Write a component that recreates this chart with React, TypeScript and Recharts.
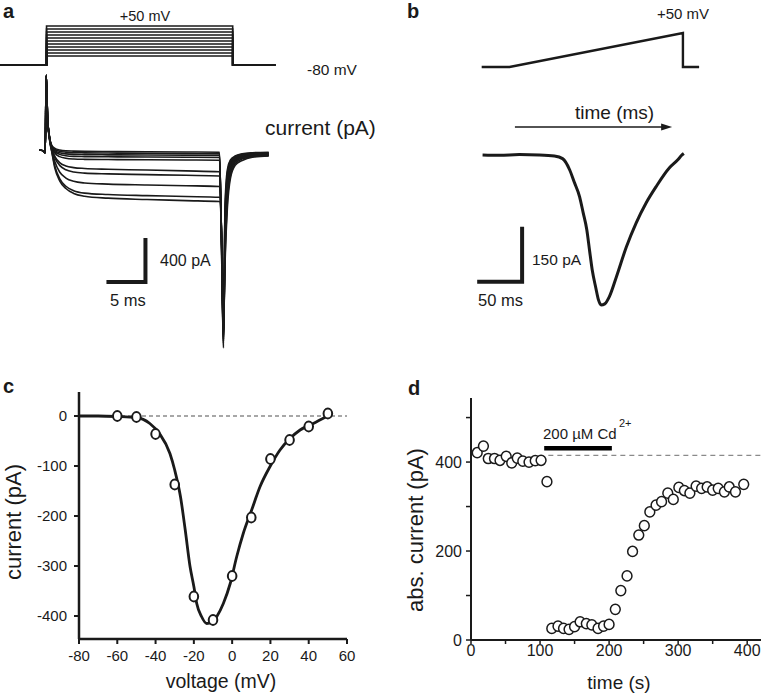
import React from 'react';
import {
  LineChart,
  Line,
  XAxis,
  YAxis,
  ComposedChart,
  Scatter,
  ReferenceLine,
  ReferenceDot,
} from 'recharts';

const FONT = '"Liberation Sans", Arial, Helvetica, sans-serif';
const INK = '#1a1a1a';

// ---------- panel a : step protocol (mV, ms) ----------
const holdingA = -80;
const stepLevelsA = [-50, -40, -30, -20, -10, 0, 10, 20, 30, 40, 50];
const sweepStartA = -6;
const stepOnA = 0;
const stepOffA = 24;
const sweepEndA = 29.5;

// ---------- panel a : current sweeps (pA vs ms) ----------
const timeA = [-0.8, -0.3, -0.05, 0.08, 0.25, 0.5, 0.8, 1.2, 1.8, 2.6, 3.6, 5, 8, 13, 18, 22.3, 22.55, 22.8, 23.0, 23.3, 23.7, 24.3, 25.2, 26.5, 28.6];
const sweepA1 = [0, -8, -25, 680, 300, 120, 40, 15, 0, -8, -10, -12, -14, -16, -18, -20, -900, -1800, -500, -180, -90, -55, -35, -25, -20];
const sweepA2 = [0, -8, -25, 680, 300, 118, 35, 5, -12, -20, -24, -26, -28, -30, -33, -35, -860, -1780, -560, -210, -100, -62, -40, -30, -25];
const sweepA3 = [0, -8, -25, 680, 300, 116, 30, -5, -25, -35, -40, -42, -44, -46, -48, -50, -830, -1760, -620, -240, -115, -68, -45, -34, -30];
const sweepA4 = [0, -8, -25, 680, 300, 114, 25, -15, -40, -52, -58, -60, -62, -64, -66, -68, -800, -1740, -680, -270, -130, -75, -50, -38, -34];
const sweepA5 = [0, -8, -25, 680, 300, 112, 20, -30, -60, -75, -82, -85, -87, -89, -91, -93, -780, -1720, -740, -300, -145, -82, -55, -42, -38];
const sweepA6 = [0, -8, -25, 680, 300, 110, 10, -60, -115, -145, -160, -168, -175, -182, -190, -198, -770, -1700, -800, -340, -160, -90, -60, -46, -42];
const sweepA7 = [0, -8, -25, 680, 300, 108, 5, -75, -140, -180, -200, -210, -217, -224, -230, -236, -760, -1680, -860, -380, -180, -100, -66, -50, -45];
const sweepA8 = [0, -8, -25, 680, 300, 105, -5, -110, -200, -255, -285, -300, -310, -318, -325, -332, -750, -1660, -920, -420, -200, -110, -72, -55, -48];
const sweepA9 = [0, -8, -25, 680, 300, 100, -15, -150, -260, -330, -370, -392, -405, -415, -423, -430, -740, -1640, -980, -470, -225, -125, -80, -60, -52];
const sweepA10 = [0, -8, -25, 680, 300, 95, -20, -170, -280, -350, -395, -420, -438, -450, -460, -468, -760, -1620, -1040, -530, -255, -140, -95, -65, -55];
const sweepsA = [sweepA1, sweepA2, sweepA3, sweepA4, sweepA5, sweepA6, sweepA7, sweepA8, sweepA9, sweepA10];
const scaleBarA = { t: 12.8, i: -1200, dt: 5, di: 400 };

// ---------- panel b : ramp protocol ----------
const rampTimesB = [-1, 30, 223, 223, 241];
const rampVoltsB = [-80, -80, 50, -80, -80];

// ---------- panel b : ramp current ----------
const timeB = [0, 19, 41, 63, 80, 89, 97, 102, 108, 112, 116, 119, 122, 126, 129, 132, 136, 141, 149, 160, 171, 182, 193, 208, 217, 222, 224];
const currentB = [0, -1, 1, 0, -3, -10, -41, -74, -114, -158, -204, -259, -313, -362, -395, -409, -406, -387, -332, -251, -185, -131, -87, -35, -14, 0, 4];
const scaleBarB = { t: 44, i: -346, dt: 50, di: 150 };
const arrowB = { from: 36, to: 211, i: 76 };

// ---------- panel c : I-V ----------
const voltsC = [-60, -50, -40, -30, -20, -10, 0, 10, 20, 30, 40, 50];
const currentC = [0, -2, -36, -137, -361, -408, -320, -203, -86, -48, -21, 5];
const fitVoltsC = [-80, -70, -60, -50, -43, -38, -32.5, -30, -27, -24.5, -22, -20, -18.5, -16, -13.3, -10.7, -8, -4.6, -1, 2.4, 5.8, 10.2, 14.6, 19.8, 25, 30.2, 35.5, 42.4, 49.4];
const fitCurrentC = [0, 0, -1, -3, -15, -35, -75, -108, -161, -228, -301, -341, -375, -401, -415, -413, -401, -375, -335, -281, -235, -188, -141, -101, -68, -45, -28, -15, -1];
const xTicksC = [-80, -60, -40, -20, 0, 20, 40, 60];
const yTicksC = [0, -100, -200, -300, -400];

// ---------- panel d : time course ----------
const timeD = [9, 18, 25, 34, 42, 51, 59, 67, 75, 84, 93, 101.5, 110, 117, 126, 134, 142, 150, 158, 167, 175, 184, 192, 200, 209, 217, 226, 234, 243, 251, 259, 268, 276, 285, 293, 301, 309, 317, 326, 334, 342, 350, 358, 367, 374, 383, 395];
const currentD = [421, 436, 408, 408, 404, 413, 398, 409, 402, 400, 403, 404, 356, 26, 31, 26, 24, 30, 41, 37, 34, 26, 31, 35, 69, 111, 144, 199, 236, 257, 288, 303, 311, 330, 316, 343, 336, 330, 346, 341, 344, 337, 341, 333, 344, 333, 350];
const baselineD = 415;
const cdStart = 106;
const cdEnd = 204;
const cdBarLevel = 431;
const xTicksD = [0, 50, 100, 150, 200, 250, 300, 350, 400];
const yTicksD = [0, 100, 200, 300, 400, 500];

// ---------- derived tables ----------
const protocolA = stepLevelsA.map((lv) => [
  { t: sweepStartA, v: holdingA },
  { t: stepOnA, v: holdingA },
  { t: stepOnA, v: lv },
  { t: stepOffA, v: lv },
  { t: stepOffA, v: holdingA },
  { t: sweepEndA, v: holdingA },
]);
const sweepRowsA = sweepsA.map((s) => timeA.map((t, k) => ({ t, i: s[k] })));
const scaleRowsA = [
  { t: scaleBarA.t - scaleBarA.dt, i: scaleBarA.i },
  { t: scaleBarA.t, i: scaleBarA.i },
  { t: scaleBarA.t, i: scaleBarA.i + scaleBarA.di },
];
const rampRowsB = rampTimesB.map((t, k) => ({ t, v: rampVoltsB[k] }));
const currentRowsB = timeB.map((t, k) => ({ t, i: currentB[k] }));
const scaleRowsB = [
  { t: scaleBarB.t - scaleBarB.dt, i: scaleBarB.i },
  { t: scaleBarB.t, i: scaleBarB.i },
  { t: scaleBarB.t, i: scaleBarB.i + scaleBarB.di },
];
const arrowRowsB = [
  { t: arrowB.from, i: arrowB.i },
  { t: arrowB.to - 6, i: arrowB.i },
];
const pointsC = voltsC.map((v, k) => ({ v, i: currentC[k] }));
const fitC = fitVoltsC.map((v, k) => ({ v, i: fitCurrentC[k] }));
const pointsD = timeD.map((t, k) => ({ t, a: currentD[k] }));

const zero = { top: 0, right: 0, bottom: 0, left: 0 };

const circleC = (p: any) => (
  <ellipse cx={p.cx} cy={p.cy} rx={4.3} ry={4.9} fill="#fff" stroke={INK} strokeWidth={2} />
);
const circleD = (p: any) => (
  <ellipse cx={p.cx} cy={p.cy} rx={4.9} ry={5.1} fill="#fff" stroke={INK} strokeWidth={1.5} />
);
const arrowHead = (p: any) => (
  <path d={`M${p.cx},${p.cy} L${p.cx - 11},${p.cy - 3.5} L${p.cx - 11},${p.cy + 3.5} Z`} fill={INK} />
);

const Abs = ({ left, top, children }: any) => (
  <div style={{ position: 'absolute', left, top }}>{children}</div>
);

export default function App() {
  return (
    <div
      style={{
        position: 'absolute',
        left: 0,
        top: 0,
        width: 761,
        height: 696,
        background: '#fff',
        fontFamily: FONT,
        overflow: 'hidden',
      }}
    >
      {/* a: protocol */}
      <Abs left={0} top={5}>
        <LineChart width={287} height={75} margin={zero}>
          <XAxis type="number" dataKey="t" domain={[-6, 31]} hide allowDataOverflow />
          <YAxis type="number" domain={[-130, 120]} hide allowDataOverflow />
          {protocolA.map((d, k) => (
            <Line key={k} data={d} dataKey="v" type="linear" stroke={INK} strokeWidth={1.6} dot={false} isAnimationActive={false} />
          ))}
        </LineChart>
      </Abs>

      {/* a: currents */}
      <Abs left={30} top={60}>
        <LineChart width={260} height={310} margin={zero}>
          <XAxis type="number" dataKey="t" domain={[-2, 31.33]} hide allowDataOverflow />
          <YAxis type="number" domain={[-2000, 818]} hide allowDataOverflow />
          {sweepRowsA.map((d, k) => (
            <Line key={k} data={d} dataKey="i" type="monotone" stroke={INK} strokeWidth={1.6} dot={false} isAnimationActive={false} />
          ))}
          <Line data={scaleRowsA} dataKey="i" type="linear" stroke={INK} strokeWidth={4} dot={false} isAnimationActive={false} />
        </LineChart>
      </Abs>

      {/* b: ramp protocol */}
      <Abs left={470} top={20}>
        <LineChart width={230} height={60} margin={zero}>
          <XAxis type="number" dataKey="t" domain={[-14, 242]} hide allowDataOverflow />
          <YAxis type="number" domain={[-130, 100]} hide allowDataOverflow />
          <Line data={rampRowsB} dataKey="v" type="linear" stroke={INK} strokeWidth={2.4} dot={false} isAnimationActive={false} />
        </LineChart>
      </Abs>

      {/* b: ramp current */}
      <Abs left={470} top={95}>
        <ComposedChart width={230} height={225} margin={zero}>
          <XAxis type="number" dataKey="t" domain={[-14, 242]} hide allowDataOverflow />
          <YAxis type="number" domain={[-450, 163.5]} hide allowDataOverflow />
          <Line data={currentRowsB} dataKey="i" type="monotone" stroke={INK} strokeWidth={3} dot={false} isAnimationActive={false} />
          <Line data={scaleRowsB} dataKey="i" type="linear" stroke={INK} strokeWidth={4} dot={false} isAnimationActive={false} />
          <Line data={arrowRowsB} dataKey="i" type="linear" stroke={INK} strokeWidth={1.5} dot={false} isAnimationActive={false} />
          <ReferenceDot x={arrowB.to} y={arrowB.i} r={0} shape={arrowHead} />
        </ComposedChart>
      </Abs>

      {/* c: I-V */}
      <Abs left={0} top={380}>
        <ComposedChart width={380} height={316} margin={{ top: 12, right: 33, bottom: 27, left: 19 }}>
          <XAxis
            type="number"
            dataKey="v"
            domain={[-80, 60]}
            ticks={xTicksC}
            interval={0}
            allowDataOverflow
            height={30}
            tickSize={5}
            tickMargin={6}
            axisLine={{ stroke: INK, strokeWidth: 2.5 }}
            tickLine={{ stroke: INK, strokeWidth: 2 }}
            tick={{ fill: INK, fontSize: 15 }}
          />
          <YAxis
            type="number"
            dataKey="i"
            domain={[-446, 48]}
            ticks={yTicksC}
            interval={0}
            allowDataOverflow
            width={60}
            tickSize={5}
            tickMargin={7}
            axisLine={{ stroke: INK, strokeWidth: 2.5 }}
            tickLine={{ stroke: INK, strokeWidth: 2 }}
            tick={{ fill: INK, fontSize: 15 }}
          />
          <ReferenceLine y={0} stroke="#8a8a8a" strokeWidth={1.4} strokeDasharray="4 3" />
          <Line data={fitC} dataKey="i" type="monotone" stroke={INK} strokeWidth={2.8} dot={false} isAnimationActive={false} />
          <Scatter data={pointsC} dataKey="i" shape={circleC} isAnimationActive={false} />
        </ComposedChart>
      </Abs>

      {/* d: time course */}
      <Abs left={380} top={380}>
        <ComposedChart width={381} height={316} margin={{ top: 18, right: 0, bottom: 26, left: 31 }}>
          <XAxis
            type="number"
            dataKey="t"
            domain={[0, 420]}
            ticks={xTicksD}
            interval={0}
            allowDataOverflow
            height={30}
            tickSize={4}
            tickMargin={1}
            tickFormatter={(v: number) => (v % 100 === 0 ? String(v) : '')}
            axisLine={{ stroke: INK, strokeWidth: 2 }}
            tickLine={{ stroke: INK, strokeWidth: 1.5 }}
            tick={{ fill: INK, fontSize: 16 }}
          />
          <YAxis
            type="number"
            dataKey="a"
            domain={[0, 544]}
            ticks={yTicksD}
            interval={0}
            allowDataOverflow
            width={60}
            tickSize={5}
            tickMargin={4}
            tickFormatter={(v: number) => (v % 200 === 0 ? String(v) : '')}
            axisLine={{ stroke: INK, strokeWidth: 2 }}
            tickLine={{ stroke: INK, strokeWidth: 1.5 }}
            tick={{ fill: INK, fontSize: 16 }}
          />
          <ReferenceLine
            segment={[{ x: 112, y: baselineD }, { x: 420, y: baselineD }]}
            stroke="#8a8a8a"
            strokeWidth={1.4}
            strokeDasharray="5 4"
          />
          <ReferenceLine
            segment={[{ x: cdStart, y: cdBarLevel }, { x: cdEnd, y: cdBarLevel }]}
            stroke="#000"
            strokeWidth={4.5}
          />
          <Scatter data={pointsD} dataKey="a" shape={circleD} isAnimationActive={false} />
        </ComposedChart>
      </Abs>

      {/* text overlay */}
      <svg
        width={761}
        height={696}
        style={{ position: 'absolute', left: 0, top: 0, pointerEvents: 'none', fontFamily: FONT }}
      >
        <g fill={INK}>
          <text x={3} y={18} fontSize={20} fontWeight="bold">a</text>
          <text x={145} y={21} fontSize={14.5} textAnchor="middle">+50 mV</text>
          <text x={307} y={75} fontSize={15.5}>-80 mV</text>
          <text x={265} y={135} fontSize={21}>current (pA)</text>
          <text x={160} y={266} fontSize={16}>400 pA</text>
          <text x={110} y={306} fontSize={16.5}>5 ms</text>

          <text x={407} y={18} fontSize={20} fontWeight="bold">b</text>
          <text x={657} y={19} fontSize={15}>+50 mV</text>
          <text x={575} y={119} fontSize={19}>time (ms)</text>
          <text x={532} y={265} fontSize={15.5}>150 pA</text>
          <text x={478} y={306} fontSize={16.5}>50 ms</text>

          <text x={3} y={393} fontSize={20} fontWeight="bold">c</text>
          <text transform="translate(21,522) rotate(-90)" fontSize={22} textAnchor="middle">current (pA)</text>
          <text x={221} y={688} fontSize={19.5} textAnchor="middle">voltage (mV)</text>

          <text x={408} y={395} fontSize={20} fontWeight="bold">d</text>
          <text transform="translate(423,530) rotate(-90)" fontSize={22} textAnchor="middle">abs. current (pA)</text>
          <text x={619} y={689} fontSize={19} textAnchor="middle">time (s)</text>
          <text x={543} y={438.5} fontSize={15}>200 µM Cd</text>
          <text x={619} y={427} fontSize={11}>2+</text>
        </g>
      </svg>
    </div>
  );
}
